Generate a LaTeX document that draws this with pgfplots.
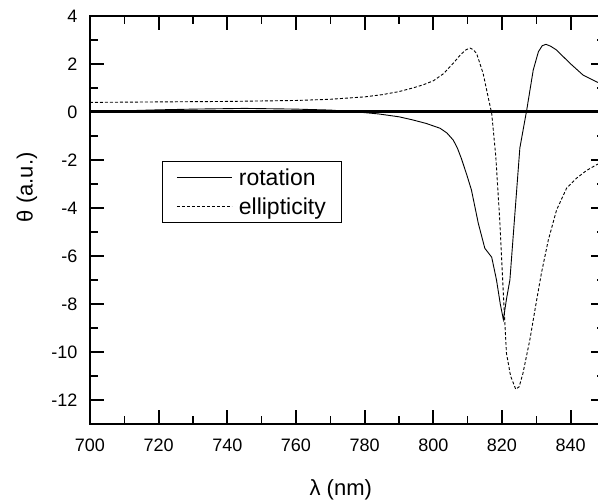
\documentclass[border=0pt]{standalone}
\usepackage{pgfplots}
\pgfplotsset{compat=1.18}
\usepackage{fontspec}
\setmainfont{Liberation Sans}

% Faraday rotation and ellipticity spectra
\pgfplotstableread{
lambda theta
700 0.00
710 0.05
720 0.09
730 0.12
745 0.15
760 0.12
770 0.08
778 0.00
784 -0.08
790 -0.20
794 -0.33
798 -0.48
802 -0.68
804 -0.88
805.8 -1.17
807 -1.50
808.2 -1.95
809.7 -2.60
811.1 -3.25
813.1 -4.64
815.0 -5.68
816.3 -5.92
817.0 -6.05
818.4 -7.00
819.5 -8.00
820.4 -8.65
821.3 -7.80
822.3 -7.00
825.2 -1.50
827.2 0.08
829.1 1.75
830.6 2.51
831.7 2.76
832.8 2.82
834.2 2.74
835.9 2.58
839.8 2.03
843.6 1.54
847.5 1.26
850 1.10
}\rotationdata

\pgfplotstableread{
lambda theta
700 0.40
720 0.42
740 0.44
760 0.48
770 0.53
780 0.63
785 0.72
790 0.85
794 1.00
797 1.13
800 1.30
803 1.60
805.8 2.03
808 2.40
809.6 2.60
810.7 2.66
811.6 2.60
812.6 2.44
814.5 1.61
816 0.60
817 -0.06
818.2 -1.86
819.4 -4.64
820.4 -7.60
821.3 -10.05
822.5 -11.00
824 -11.55
825 -11.45
826.1 -10.89
828.1 -9.50
830.1 -7.83
831.5 -6.70
833.5 -5.33
835.9 -4.08
838.8 -3.18
841.7 -2.76
844.5 -2.45
847.5 -2.20
850 -2.05
}\ellipticitydata

\begin{document}
\begin{tikzpicture}
\begin{axis}[
  at={(0,0)}, anchor=south west,
  scale only axis, width=515pt, height=408pt,
  xmin=700, xmax=850, ymin=-13, ymax=4,
  xtick={700,720,...,840}, minor x tick num=1,
  ytick={-12,-10,...,4}, minor y tick num=1,
  tick align=inside,
  major tick length=14pt, minor tick length=8pt,
  axis line style={line width=2.2pt},
  every tick/.style={black, line width=1.8pt},
  every minor tick/.style={black, line width=1.3pt},
  ticklabel style={font=\fontsize{18}{20}\selectfont},
  /pgf/number format/assume math mode=true,
  yticklabel style={xshift=-9pt},
  xticklabel style={yshift=-11pt},
  xlabel={λ (nm)},
  ylabel={θ (a.u.)},
  label style={font=\fontsize{22}{24}\selectfont},
  xlabel style={at={(rel axis cs:0.487,0)}, anchor=center, yshift=-66pt},
  ylabel style={at={(rel axis cs:0,0.58)}, anchor=center, rotate=0, yshift=63pt},
  legend style={at={(rel axis cs:0.1395,0.645)}, anchor=north west,
    draw=black, line width=1.3pt, font=\fontsize{23}{26}\selectfont,
    inner xsep=14pt, inner ysep=4pt, row sep=5pt,
    nodes={inner ysep=3pt},
    /tikz/every even column/.append style={column sep=4pt}},
  legend cell align=left,
  legend image code/.code={%
    \path[draw=none, fill=none] (0pt,0pt) -- (60pt,0pt);
    \draw[line width=0.8pt,#1] (0pt,0pt) -- (55pt,0pt);},
]
\addplot[black, line width=0.9pt] table[x=lambda, y=theta] {\rotationdata};
\addlegendentry{rotation}
\addplot[black, line width=0.9pt, dash pattern=on 3pt off 2pt] table[x=lambda, y=theta] {\ellipticitydata};
\addlegendentry{ellipticity}
\addplot[black, line width=3pt, forget plot] coordinates {(700,0) (850,0)};
\end{axis}
\pgfresetboundingbox
\useasboundingbox (-90pt,-79pt) rectangle (508pt,424pt);
\end{tikzpicture}
\end{document}
